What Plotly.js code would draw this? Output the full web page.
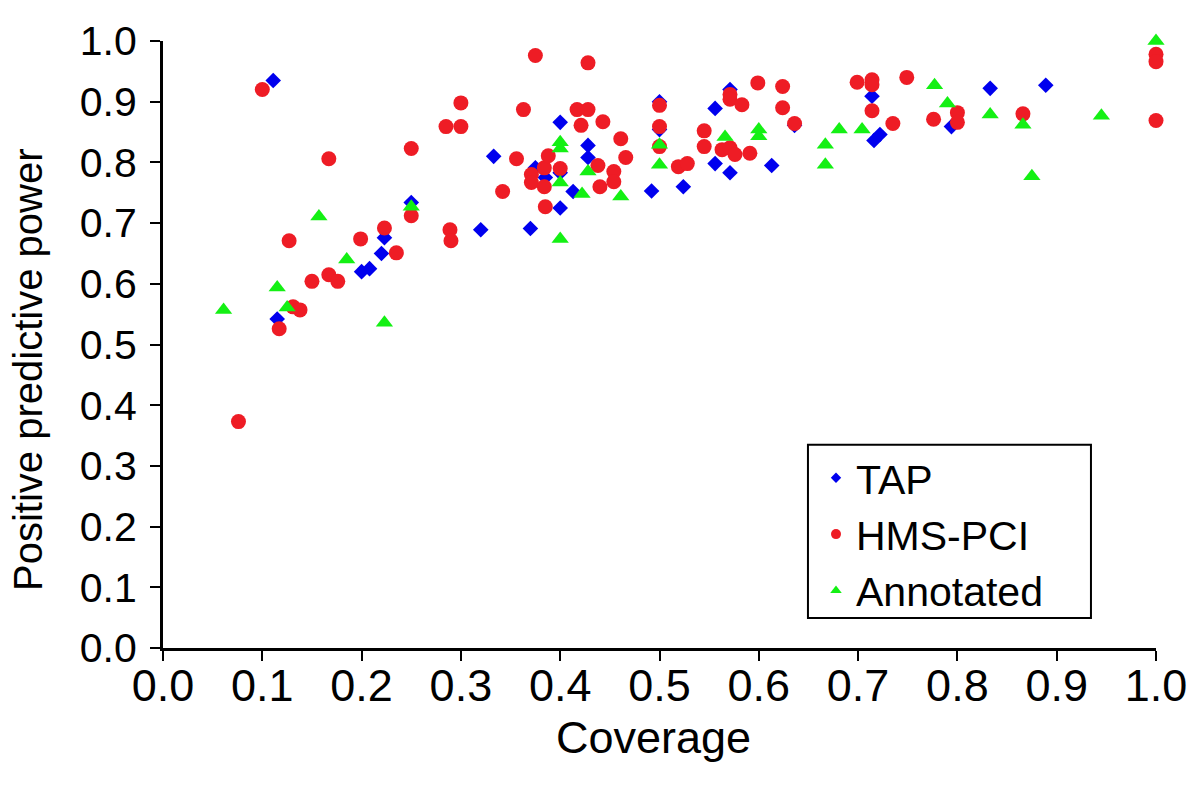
<!DOCTYPE html>
<html>
<head>
<meta charset="utf-8">
<script src="https://cdn.plot.ly/plotly-3.0.1.min.js"></script>
<style>html,body{margin:0;padding:0;background:#fff;}#chart{width:1200px;height:792px;}</style>
</head>
<body>
<div id="chart"></div>
<script>
var tapX = [0.111,0.115,0.200,0.208,0.220,0.223,0.250,0.320,0.333,0.370,0.375,0.385,0.400,0.400,0.400,0.413,0.428,0.428,0.492,0.500,0.500,0.524,0.556,0.556,0.571,0.571,0.613,0.636,0.714,0.716,0.722,0.794,0.833,0.889];
var tapY = [0.935,0.542,0.620,0.625,0.650,0.676,0.734,0.689,0.810,0.691,0.791,0.775,0.866,0.783,0.725,0.752,0.828,0.808,0.753,0.900,0.854,0.760,0.889,0.798,0.920,0.783,0.795,0.861,0.909,0.836,0.846,0.859,0.922,0.927];

var hmsX = [0.076,0.100,0.117,0.127,0.131,0.138,0.150,0.167,0.167,0.176,0.199,0.223,0.235,0.250,0.250,0.285,0.289,0.290,0.300,0.300,0.342,0.356,0.363,0.371,0.371,0.375,0.384,0.384,0.385,0.388,0.400,0.417,0.421,0.428,0.428,0.438,0.440,0.443,0.454,0.454,0.461,0.466,0.500,0.500,0.500,0.519,0.528,0.545,0.545,0.563,0.571,0.571,0.571,0.576,0.583,0.591,0.599,0.624,0.624,0.636,0.699,0.714,0.714,0.714,0.735,0.749,0.776,0.800,0.800,0.866,1.0,1.0,1.0];
var hmsY = [0.373,0.920,0.526,0.671,0.562,0.557,0.604,0.806,0.615,0.604,0.674,0.692,0.651,0.823,0.712,0.859,0.689,0.671,0.898,0.859,0.752,0.806,0.887,0.780,0.767,0.976,0.791,0.760,0.727,0.811,0.790,0.887,0.861,0.964,0.887,0.795,0.760,0.867,0.785,0.768,0.839,0.808,0.894,0.859,0.826,0.793,0.798,0.852,0.826,0.821,0.912,0.904,0.824,0.813,0.895,0.815,0.931,0.925,0.890,0.864,0.932,0.936,0.928,0.885,0.864,0.940,0.871,0.882,0.866,0.880,0.978,0.966,0.869];

var annX = [0.061,0.115,0.125,0.157,0.185,0.223,0.250,0.400,0.400,0.400,0.400,0.422,0.428,0.461,0.500,0.500,0.566,0.600,0.600,0.667,0.667,0.681,0.704,0.777,0.790,0.833,0.866,0.875,0.945,1.0];
var annY = [0.557,0.594,0.561,0.711,0.640,0.536,0.727,0.833,0.823,0.767,0.674,0.748,0.785,0.744,0.829,0.796,0.842,0.854,0.843,0.829,0.796,0.854,0.854,0.927,0.897,0.879,0.862,0.777,0.877,1.0];

var seriesNames = ["TAP", "HMS-PCI", "Annotated"];
var xTitle = "Coverage";
var yTitle = "Positive predictive power";
var tickVals = [0,0.1,0.2,0.3,0.4,0.5,0.6,0.7,0.8,0.9,1.0];
var tickText = ["0.0","0.1","0.2","0.3","0.4","0.5","0.6","0.7","0.8","0.9","1.0"];

var colBlue = "#0000ee", colRed = "#ee1c25", colGreen = "#14f014";
var fam = "Liberation Sans, Arial, sans-serif";

var traces = [
  {x: tapX, y: tapY, type: "scatter", mode: "markers", name: seriesNames[0], showlegend: false, cliponaxis: false,
   marker: {symbol: "diamond", size: 12, color: colBlue}},
  {x: hmsX, y: hmsY, type: "scatter", mode: "markers", name: seriesNames[1], showlegend: false, cliponaxis: false,
   marker: {symbol: "circle", size: 15, color: colRed}},
  {x: annX, y: annY, type: "scatter", mode: "markers", name: seriesNames[2], showlegend: false, cliponaxis: false,
   marker: {symbol: "triangle-up", size: 15, color: colGreen}},
  {x: [null], y: [null], type: "scatter", mode: "markers", name: seriesNames[0], marker: {symbol: "diamond", size: 8, color: colBlue}},
  {x: [null], y: [null], type: "scatter", mode: "markers", name: seriesNames[1], marker: {symbol: "circle", size: 10, color: colRed}},
  {x: [null], y: [null], type: "scatter", mode: "markers", name: seriesNames[2], marker: {symbol: "triangle-up", size: 10, color: colGreen}}
];

var layout = {
  width: 1200, height: 792,
  margin: {l: 163, r: 44, t: 41, b: 144},
  paper_bgcolor: "#fff", plot_bgcolor: "#fff",
  showlegend: true,
  font: {family: fam, color: "#000"},
  xaxis: {
    range: [0, 1], tickvals: tickVals, ticktext: tickText,
    showgrid: false, zeroline: false, showline: true, linecolor: "#000", linewidth: 3,
    ticks: "outside", ticklen: 10, tickwidth: 2, tickcolor: "#000",
    tickfont: {family: fam, size: 45, color: "#000"},
    ticklabelstandoff: -14,
    automargin: false, fixedrange: true
  },
  yaxis: {
    range: [0, 1], tickvals: tickVals, ticktext: tickText,
    showgrid: false, zeroline: false, showline: true, linecolor: "#000", linewidth: 3,
    ticks: "outside", ticklen: 10, tickwidth: 2, tickcolor: "#000",
    tickfont: {family: fam, size: 41, color: "#000"},
    ticklabelstandoff: 5,
    automargin: false, fixedrange: true
  },
  shapes: [
    {type: "rect", xref: "paper", yref: "paper", x0: 0.6495, x1: 0.9345, y0: 0.0495, y1: 0.3347,
     line: {color: "#000", width: 2}, fillcolor: "#fff", layer: "above"}
  ],
  annotations: [
    {text: xTitle, xref: "paper", yref: "paper", x: 0.4935, y: -0.148, xanchor: "center", yanchor: "middle",
     showarrow: false, font: {family: fam, size: 45, color: "#000"}},
    {text: yTitle, xref: "paper", yref: "paper", x: -0.136, y: 0.458, xanchor: "center", yanchor: "middle",
     textangle: -90, showarrow: false, font: {family: fam, size: 40, color: "#000"}}
  ],
  legend: {
    x: 0.6576, y: 0.335, xanchor: "left", yanchor: "top",
    bgcolor: "rgba(0,0,0,0)", borderwidth: 0,
    font: {family: fam, size: 41, color: "#000"},
    itemwidth: 30, tracegroupgap: 0
  }
};

Plotly.newPlot("chart", traces, layout, {displayModeBar: false, staticPlot: true});
</script>
</body>
</html>
